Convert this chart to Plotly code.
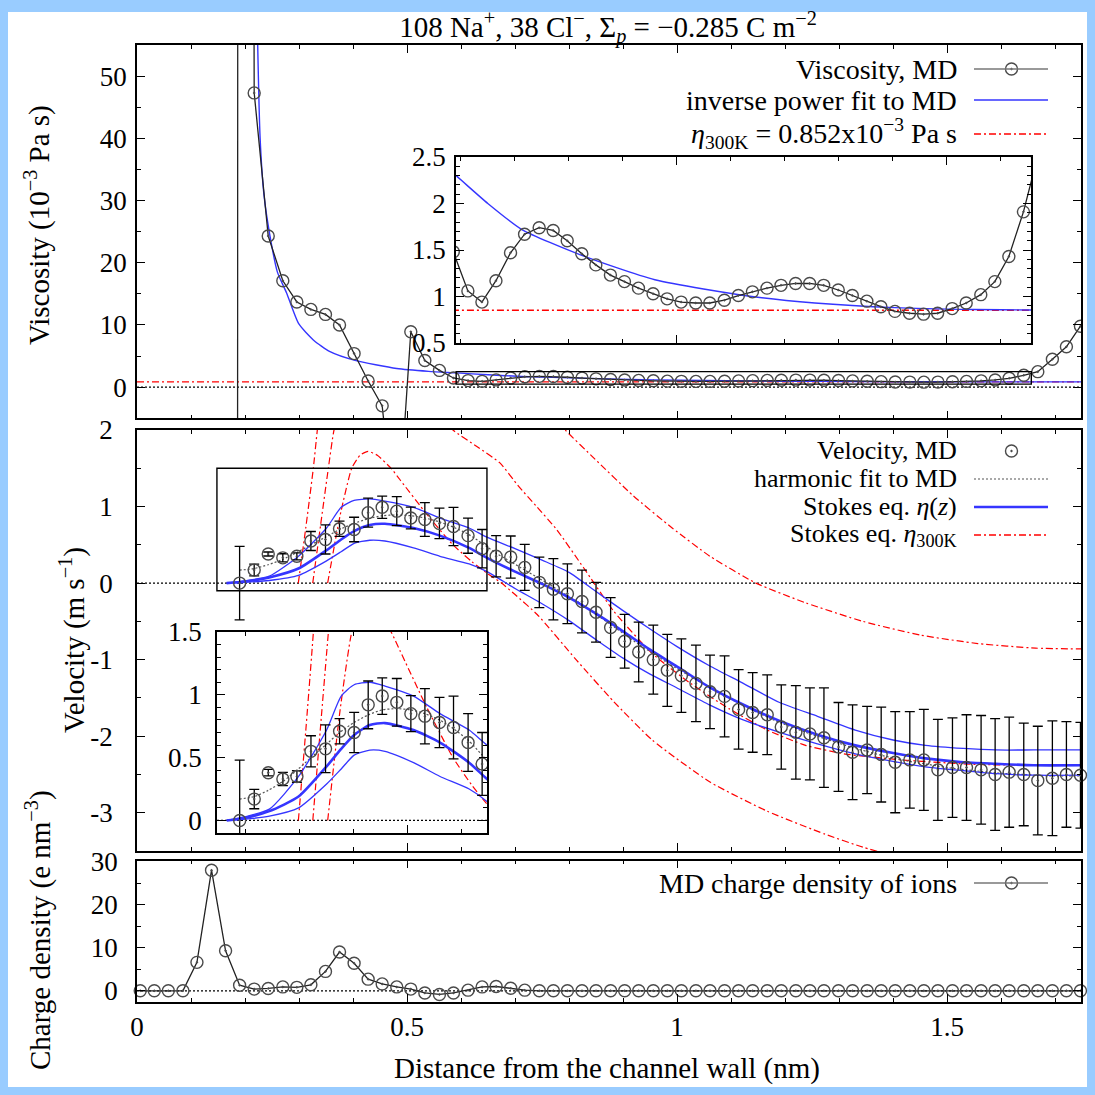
import plotly.graph_objects as go

FONT = "Liberation Serif"
TXT = dict(family=FONT, size=29, color="black")
LEGTXT_TOP = dict(family=FONT, size=28, color="black")
LEGTXT_MID = dict(family=FONT, size=26, color="black")
TICKFONT = dict(family=FONT, size=27, color="black")

# ---------------- data ----------------
# bin centres (nm)
z = [0.006, 0.032, 0.058, 0.085, 0.111, 0.138, 0.164, 0.190, 0.217, 0.243,
     0.270, 0.296, 0.322, 0.349, 0.375, 0.402, 0.428, 0.454, 0.481, 0.507,
     0.533, 0.560, 0.586, 0.613, 0.639, 0.665, 0.692, 0.718, 0.745, 0.771,
     0.797, 0.824, 0.850, 0.877, 0.903, 0.929, 0.956, 0.982, 1.008, 1.035,
     1.061, 1.088, 1.114, 1.140, 1.167, 1.193, 1.220, 1.246, 1.272, 1.299,
     1.325, 1.352, 1.378, 1.404, 1.431, 1.457, 1.483, 1.510, 1.536, 1.563,
     1.589, 1.615, 1.642, 1.668, 1.695, 1.721, 1.747]

# viscosity, MD (10^-3 Pa s)
viscosity = [None, None, None, None, None, None,
             -6000, 1000, 47.3, 24.3, 17.1, 13.7, 12.5, 11.7, 10.0, 5.4,
             1.0, -3.0, -25, 8.9, 4.3, 2.7, 1.48,
             1.06, 0.94, 1.17, 1.47, 1.67, 1.74, 1.71, 1.60, 1.46, 1.34,
             1.23, 1.16, 1.09, 1.03, 0.975, 0.94, 0.93, 0.93, 0.96, 1.01,
             1.05, 1.09, 1.12, 1.14, 1.14, 1.12, 1.07, 1.01, 0.95, 0.89,
             0.84, 0.82, 0.81, 0.82, 0.87, 0.93, 1.02, 1.16, 1.43, 1.91,
             2.5, 4.5, 6.5, 9.8]

# inverse power fit to MD
fit_z = [0.220, 0.2235, 0.228, 0.235, 0.2463, 0.260, 0.2772, 0.2994, 0.3265,
         0.3574, 0.4037, 0.4809, 0.540, 0.591, 0.650, 0.713, 0.8204, 0.9593,
         1.1389, 1.2556, 1.4037, 1.550, 1.6556, 1.748]
fit_eta = [75, 55, 40, 31, 24.3, 18.5, 15.1, 10.2, 7.6,
           5.7, 4.3, 3.0, 2.55, 2.30, 2.0, 1.72, 1.45, 1.18,
           1.0, 0.93, 0.88, 0.86, 0.855, 0.85]
ETA_300K = 0.852

# velocity, MD (m/s) for bins 7..66
vel_z = z[7:]
velocity = [0.0, 0.17, 0.38, 0.33, 0.35, 0.55, 0.57, 0.71, 0.70, 0.92,
            0.99, 0.94, 0.85, 0.83, 0.78, 0.74, 0.62, 0.45,
            0.35, 0.34, 0.205, 0.01, -0.08, -0.14, -0.24, -0.38, -0.58, -0.76,
            -0.90, -1.0, -1.14, -1.21, -1.31, -1.42, -1.48, -1.65, -1.69, -1.72,
            -1.88, -1.95, -1.97, -2.02, -2.14, -2.21, -2.18, -2.24, -2.34, -2.31,
            -2.31, -2.44, -2.41, -2.41, -2.44, -2.50, -2.47, -2.50, -2.58, -2.55,
            -2.50, -2.51]
velocity_err = [0.48, 0.077, 0.026, 0.053, 0.046, 0.124, 0.19, 0.10, 0.16, 0.19,
                0.145, 0.19, 0.143, 0.22, 0.20, 0.25, 0.23, 0.25,
                0.27, 0.275, 0.30, 0.33, 0.40, 0.39, 0.41, 0.39, 0.39, 0.35,
                0.39, 0.45, 0.47, 0.48, 0.50, 0.48, 0.53, 0.52, 0.52, 0.52,
                0.55, 0.61, 0.60, 0.65, 0.58, 0.62, 0.57, 0.62, 0.66, 0.63,
                0.66, 0.66, 0.65, 0.69, 0.71, 0.73, 0.72, 0.67, 0.71, 0.75,
                0.69, 0.69]
harmonic_fit = [0.17, 0.19, 0.24, 0.31, 0.40, 0.50, 0.60, 0.70, 0.78, 0.84,
                0.88, 0.89, 0.88, 0.85, 0.80, 0.73, 0.64, 0.52,
                0.39, 0.28, 0.17, 0.06, -0.05, -0.16, -0.28, -0.41, -0.54, -0.67,
                -0.80, -0.92, -1.04, -1.15, -1.26, -1.37, -1.47, -1.57, -1.66, -1.75,
                -1.83, -1.90, -1.97, -2.03, -2.09, -2.15, -2.20, -2.25, -2.29, -2.33,
                -2.36, -2.39, -2.42, -2.44, -2.46, -2.48, -2.49, -2.50, -2.51, -2.52,
                -2.52, -2.52]

# Stokes eq. with eta(z): central solution and its two bounds
stokes_z = [0.166, 0.20, 0.245, 0.299, 0.351, 0.378, 0.402, 0.431, 0.459, 0.512,
            0.561, 0.615, 0.648, 0.70, 0.75, 0.80, 0.85, 0.90, 0.95, 1.00,
            1.06, 1.12, 1.19, 1.26, 1.33, 1.40, 1.46, 1.53, 1.59, 1.66, 1.748]
stokes_mid = [0, 0.02, 0.074, 0.19, 0.43, 0.57, 0.68, 0.76, 0.775, 0.72,
              0.62, 0.46, 0.33, 0.15, -0.01, -0.19, -0.40, -0.63, -0.87, -1.09,
              -1.36, -1.58, -1.80, -1.98, -2.12, -2.22, -2.29, -2.34, -2.36, -2.38, -2.38]
stokes_hi = [0, 0.03, 0.09, 0.35, 0.72, 0.99, 1.08, 1.10, 1.07, 0.99,
             0.85, 0.72, 0.60, 0.45, 0.30, 0.14, -0.11, -0.36, -0.60, -0.83,
             -1.08, -1.30, -1.56, -1.74, -1.92, -2.05, -2.12, -2.16, -2.18, -2.18, -2.18]
stokes_lo = [0, 0.01, 0.034, 0.10, 0.29, 0.41, 0.52, 0.56, 0.55, 0.46,
             0.35, 0.25, 0.15, -0.07, -0.27, -0.49, -0.74, -0.98, -1.19, -1.37,
             -1.59, -1.78, -1.95, -2.10, -2.23, -2.33, -2.40, -2.45, -2.49, -2.51, -2.51]

# Stokes eq. with eta_300K (three solutions)
s300a_z = [0.2987, 0.3125, 0.3265, 0.3339, 0.345, 0.37, 0.41, 0.46, 0.52, 0.58,
           0.64, 0.70, 0.75, 0.793, 0.848, 0.919, 0.991, 1.061, 1.146, 1.239,
           1.344, 1.451, 1.557, 1.664, 1.748]
s300a_v = [0, 0.72, 1.5, 2.0, 2.7, 3.8, 4.6, 4.9, 4.7, 4.2,
           3.5, 2.8, 2.35, 2.0, 1.62, 1.14, 0.72, 0.35, 0.0, -0.26,
           -0.50, -0.68, -0.79, -0.85, -0.86]
s300b_z = [0.3254, 0.340, 0.3543, 0.3648, 0.38, 0.41, 0.45, 0.50, 0.55, 0.585,
           0.63, 0.672, 0.706, 0.74, 0.777, 0.827, 0.883, 0.954, 1.025, 1.096,
           1.167, 1.238, 1.309, 1.416, 1.557, 1.748]
s300b_v = [0, 0.76, 1.5, 2.0, 2.35, 2.6, 2.65, 2.5, 2.25, 2.0,
           1.78, 1.57, 1.27, 1.0, 0.70, 0.20, -0.37, -0.92, -1.31, -1.64,
           -1.92, -2.12, -2.23, -2.31, -2.37, -2.38]
s300c_z = [0.353, 0.376, 0.3976, 0.413, 0.4278, 0.445, 0.4717, 0.487, 0.5365, 0.585,
           0.62, 0.65, 0.675, 0.70, 0.741, 0.813, 0.883, 0.954, 1.061, 1.167,
           1.274, 1.344, 1.45, 1.56, 1.66, 1.748]
s300c_v = [0, 0.88, 1.5, 1.67, 1.72, 1.67, 1.49, 1.35, 0.90, 0.50,
           0.28, 0.12, 0.0, -0.15, -0.41, -1.0, -1.55, -2.05, -2.6, -2.98,
           -3.28, -3.45, -3.65, -3.78, -3.85, -3.87]

# charge density (e nm^-3)
charge_density = [0, 0, 0, 0, 6.6, 28.0, 9.3, 1.3, 0.4, 0.55,
                  0.9, 0.8, 1.4, 4.5, 9.0, 6.4, 2.7, 1.6, 0.9, 0.4,
                  -0.5, -0.85, -0.5, 0.15, 0.9, 1.0, 0.6, 0.15, 0, 0,
                  0, 0, 0, 0, 0, 0, 0, 0, 0, 0,
                  0, 0, 0, 0, 0, 0, 0, 0, 0, 0,
                  0, 0, 0, 0, 0, 0, 0, 0, 0, 0,
                  0, 0, 0, 0, 0, 0, 0]

# axis ranges / ticks
X_RANGE = [0, 1.748]
VISC_RANGE = [-5, 55]
VEL_RANGE = [-3.5, 2]
CHG_RANGE = [-2.6, 30.2]
VISC_INSET_X = [0.591, 1.656]
VISC_INSET_Y = [0.5, 2.5]
VEL_INSET_X = [0.148, 0.648]
VEL_INSET_Y = [-0.1, 1.5]

X_TICKS = [0, 0.5, 1, 1.5]
X_LABELS = ["0", "0.5", "1", "1.5"]
VISC_TICKS = [0, 10, 20, 30, 40, 50]
VISC_LABELS = ["0", "10", "20", "30", "40", "50"]
VEL_TICKS = [-3, -2, -1, 0, 1, 2]
VEL_LABELS = ["-3", "-2", "-1", "0", "1", "2"]
CHG_TICKS = [0, 10, 20, 30]
CHG_LABELS = ["0", "10", "20", "30"]
VISC_IN_TICKS = [0.5, 1, 1.5, 2, 2.5]
VISC_IN_LABELS = ["0.5", "1", "1.5", "2", "2.5"]
VEL_IN_TICKS = [0, 0.5, 1, 1.5]
VEL_IN_LABELS = ["0", "0.5", "1", "1.5"]

# ---------------- layout geometry (pixels) ----------------
W = H = 1095
ML, MR, MT, MB = 137, 14, 45, 93
PW, PH = W - ML - MR, H - MT - MB


def pxx(px):
    return (px - ML) / PW


def pyy(py):
    return (H - MB - py) / PH


DASHDOT = "7px,3px,2px,3px"
BLUE = "#3535ff"
MARK_COLOR = "#4a4a4a"


def marker_style():
    return dict(symbol="circle-open-dot", size=12, color=MARK_COLOR,
                line=dict(width=1.4, color=MARK_COLOR))


fig = go.Figure()

# ----- viscosity panel and its inset -----
for xa, ya in (("x", "y"), ("x4", "y4")):
    fig.add_trace(go.Scatter(x=X_RANGE, y=[ETA_300K, ETA_300K], xaxis=xa, yaxis=ya,
                             mode="lines", line=dict(color="red", width=1.3, dash=DASHDOT),
                             hoverinfo="skip"))
    fig.add_trace(go.Scatter(x=fit_z, y=fit_eta, xaxis=xa, yaxis=ya, mode="lines",
                             line=dict(color=BLUE, width=1.4, shape="spline", smoothing=0.6),
                             hoverinfo="skip"))
    fig.add_trace(go.Scatter(x=z, y=viscosity, xaxis=xa, yaxis=ya, mode="lines+markers",
                             line=dict(color="#222222", width=1.3), marker=marker_style(),
                             connectgaps=False, hoverinfo="skip"))

# ----- velocity panel and its inset -----
for xa, ya, clip in (("x2", "y2", False), ("x5", "y5", True)):
    for zz, vv in ((s300a_z, s300a_v), (s300b_z, s300b_v), (s300c_z, s300c_v)):
        fig.add_trace(go.Scatter(x=zz, y=vv, xaxis=xa, yaxis=ya, mode="lines",
                                 line=dict(color="red", width=1.2, dash=DASHDOT,
                                           shape="spline", smoothing=0.5),
                                 hoverinfo="skip"))
    fig.add_trace(go.Scatter(x=vel_z, y=harmonic_fit, xaxis=xa, yaxis=ya, mode="lines",
                             line=dict(color="#555555", width=1.2, dash="2px,2px",
                                       shape="spline", smoothing=0.6),
                             hoverinfo="skip"))
    for vv, wdt in ((stokes_lo, 1.3), (stokes_hi, 1.3), (stokes_mid, 2.6)):
        fig.add_trace(go.Scatter(x=stokes_z, y=vv, xaxis=xa, yaxis=ya, mode="lines",
                                 line=dict(color=BLUE, width=wdt, shape="spline", smoothing=0.6),
                                 hoverinfo="skip"))
    fig.add_trace(go.Scatter(x=vel_z, y=velocity, xaxis=xa, yaxis=ya, mode="markers",
                             marker=marker_style(), cliponaxis=clip,
                             error_y=dict(type="data", array=velocity_err, color="black",
                                          thickness=1.3, width=5),
                             hoverinfo="skip"))

# ----- charge density panel -----
fig.add_trace(go.Scatter(x=z, y=charge_density, xaxis="x3", yaxis="y3", mode="lines+markers",
                         line=dict(color="#222222", width=1.3), marker=marker_style(),
                         cliponaxis=False, hoverinfo="skip"))

# ----- legend markers (overlay axis spanning the paper) -----
LEG_X_TEXT, LEG_X0, LEG_X1, LEG_XM = 958, 974, 1048, 1011.5
fig.add_trace(go.Scatter(x=[pxx(LEG_XM)] * 3, y=[pyy(69), pyy(451), pyy(883)],
                         xaxis="x6", yaxis="y6", mode="markers", marker=marker_style(),
                         hoverinfo="skip"))

# ---------------- axes ----------------
def axis(**kw):
    base = dict(showline=True, linecolor="black", linewidth=1.5, mirror="allticks",
                ticks="inside", ticklen=8, tickwidth=1.2, tickcolor="black",
                showgrid=False, zeroline=False, tickfont=TICKFONT,
                minor=dict(ticks="inside", ticklen=4, tickwidth=1.2, tickcolor="black",
                           showgrid=False, tickmode="linear", tick0=0))
    minor_dtick = kw.pop("minor_dtick", None)
    if minor_dtick is not None:
        base["minor"]["dtick"] = minor_dtick
    base.update(kw)
    return base


D_TOP = [pyy(418.3), pyy(45)]
D_MID = [pyy(851), pyy(430)]
D_BOT = [0, pyy(860.7)]

layout_axes = dict(
    xaxis=axis(domain=[0, 1], range=X_RANGE, anchor="y", tickmode="array",
               tickvals=X_TICKS, showticklabels=False, minor_dtick=0.1),
    yaxis=axis(domain=D_TOP, range=VISC_RANGE, anchor="x", tickmode="array",
               tickvals=VISC_TICKS, ticktext=VISC_LABELS, minor_dtick=5, ticklabelstandoff=3),
    xaxis2=axis(domain=[0, 1], range=X_RANGE, anchor="y2", tickmode="array",
                tickvals=X_TICKS, showticklabels=False, minor_dtick=0.1),
    yaxis2=axis(domain=D_MID, range=VEL_RANGE, anchor="x2", tickmode="array",
                tickvals=VEL_TICKS, ticktext=VEL_LABELS, minor_dtick=0.5, ticklabelstandoff=17),
    xaxis3=axis(domain=[0, 1], range=X_RANGE, anchor="y3", tickmode="array",
                tickvals=X_TICKS, ticktext=X_LABELS, minor_dtick=0.1, ticklabelstandoff=0),
    yaxis3=axis(domain=D_BOT, range=CHG_RANGE, anchor="x3", tickmode="array",
                tickvals=CHG_TICKS, ticktext=CHG_LABELS, minor_dtick=5, ticklabelstandoff=12),
    xaxis4=axis(domain=[pxx(456), pxx(1031)], range=VISC_INSET_X, anchor="y4",
                tickmode="linear", tick0=0, dtick=0.5, showticklabels=False, minor_dtick=0.1),
    yaxis4=axis(domain=[pyy(343), pyy(157)], range=VISC_INSET_Y, anchor="x4", tickmode="array",
                tickvals=VISC_IN_TICKS, ticktext=VISC_IN_LABELS, minor_dtick=0.1,
                ticklabelstandoff=3),
    xaxis5=axis(domain=[pxx(217), pxx(487)], range=VEL_INSET_X, anchor="y5",
                tickmode="linear", tick0=0, dtick=0.5, showticklabels=False, minor_dtick=0.1),
    yaxis5=axis(domain=[pyy(833), pyy(632)], range=VEL_INSET_Y, anchor="x5", tickmode="array",
                tickvals=VEL_IN_TICKS, ticktext=VEL_IN_LABELS, minor_dtick=0.1,
                ticklabelstandoff=8),
    xaxis6=dict(domain=[0, 1], range=[0, 1], anchor="y6", visible=False, fixedrange=True),
    yaxis6=dict(domain=[0, 1], range=[0, 1], anchor="x6", visible=False, fixedrange=True),
)

# ---------------- shapes ----------------
shapes = []
# white page inside light-blue frame
shapes.append(dict(type="rect", xref="paper", yref="paper", x0=pxx(8), x1=pxx(1087),
                   y0=pyy(1087), y1=pyy(12), fillcolor="white", line=dict(width=0),
                   layer="below"))
# zero lines
for xa, ya in (("x", "y"), ("x2", "y2"), ("x3", "y3"), ("x5", "y5")):
    shapes.append(dict(type="line", xref=f"{xa} domain", yref=ya, x0=0, x1=1, y0=0, y1=0,
                       line=dict(color="black", width=1.2, dash="2px,2px"), layer="below"))
# zoom-region rectangles
shapes.append(dict(type="rect", xref="x", yref="y", x0=VISC_INSET_X[0], x1=VISC_INSET_X[1],
                   y0=VISC_INSET_Y[0], y1=VISC_INSET_Y[1], line=dict(color="black", width=1.4)))
shapes.append(dict(type="rect", xref="x2", yref="y2", x0=VEL_INSET_X[0], x1=VEL_INSET_X[1],
                   y0=VEL_INSET_Y[0], y1=VEL_INSET_Y[1], line=dict(color="black", width=1.4)))

# legend samples
legend_rows = [
    ("Viscosity, MD", 69, dict(color="#777777", width=1.6), LEGTXT_TOP),
    ("inverse power fit to MD", 100, dict(color=BLUE, width=1.4), LEGTXT_TOP),
    ("<i>η</i><sub>300K</sub> = 0.852x10<sup>−3</sup> Pa s", 134,
     dict(color="red", width=1.3, dash=DASHDOT), LEGTXT_TOP),
    ("Velocity, MD", 451, None, LEGTXT_MID),
    ("harmonic fit to MD", 479, dict(color="#555555", width=1.2, dash="2px,2px"), LEGTXT_MID),
    ("Stokes eq. <i>η</i>(<i>z</i>)", 507, dict(color=BLUE, width=2.6), LEGTXT_MID),
    ("Stokes eq. <i>η</i><sub>300K</sub>", 535, dict(color="red", width=1.3, dash=DASHDOT),
     LEGTXT_MID),
    ("MD charge density of ions", 883, dict(color="#777777", width=1.6), LEGTXT_TOP),
]
annotations = []
for text, ypx, ln, fnt in legend_rows:
    annotations.append(dict(text=text, x=pxx(LEG_X_TEXT), y=pyy(ypx), xref="paper", yref="paper",
                            xanchor="right", yanchor="middle", showarrow=False, font=fnt,
                            borderpad=0))
    if ln is not None:
        shapes.append(dict(type="line", xref="paper", yref="paper", x0=pxx(LEG_X0),
                           x1=pxx(LEG_X1), y0=pyy(ypx), y1=pyy(ypx), line=ln, layer="above"))

# axis titles
annotations += [
    dict(text="Viscosity (10<sup>−3</sup> Pa s)", x=pxx(38), y=pyy(225), textangle=-90),
    dict(text="Velocity (m s<sup>−1</sup>)", x=pxx(72), y=pyy(640), textangle=-90),
    dict(text="Charge density (e nm<sup>−3</sup>)", x=pxx(38), y=pyy(930), textangle=-90),
    dict(text="Distance from the channel wall (nm)", x=pxx(607), y=pyy(1068), textangle=0),
]
for a in annotations[-4:]:
    a.update(xref="paper", yref="paper", xanchor="center", yanchor="middle",
             showarrow=False, font=TXT)

fig.update_layout(
    width=W, height=H,
    margin=dict(l=ML, r=MR, t=MT, b=MB, pad=0),
    paper_bgcolor="#99ccff",
    plot_bgcolor="rgba(0,0,0,0)",
    showlegend=False,
    title=dict(text="108 Na<sup>+</sup>, 38 Cl<sup>−</sup>, Σ<sub><i>p</i></sub> = −0.285 C m<sup>−2</sup>",
               x=pxx(608), xref="paper", xanchor="center",
               y=1 - 27 / H, yref="container", yanchor="middle", font=TXT),
    shapes=shapes,
    annotations=annotations,
    **layout_axes,
)

fig.write_html("out.html", config={"displayModeBar": False},
               post_script="document.body.style.margin='0px';document.body.style.overflow='hidden';")
